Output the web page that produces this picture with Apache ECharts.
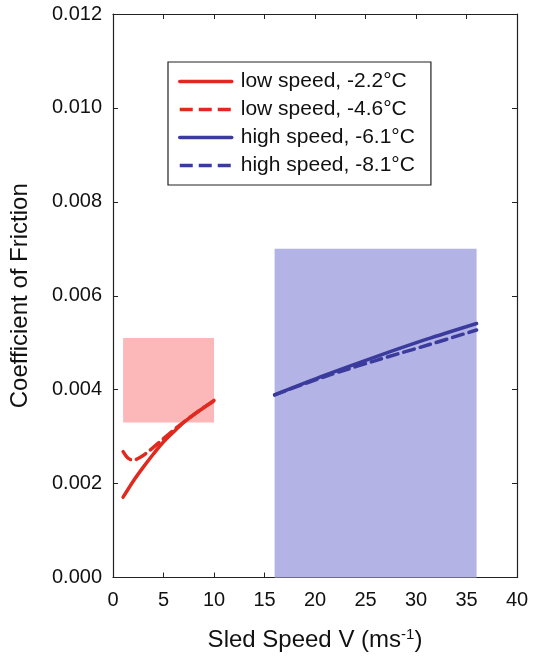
<!DOCTYPE html>
<html>
<head>
<meta charset="utf-8">
<script src="https://cdn.jsdelivr.net/npm/echarts@6/dist/echarts.min.js"></script>
<style>
  html, body { margin: 0; padding: 0; background: #fff; }
  #chart { width: 536px; height: 657px; }
</style>
</head>
<body>
<div id="chart"></div>
<script>
  // speed (m/s) vs coefficient of friction
  var lowWarm = [[1, 0.00171], [2, 0.00205], [3, 0.00235], [4, 0.00263], [5, 0.00289],
                 [6, 0.00310], [7, 0.00330], [8, 0.00347], [9, 0.00362], [10, 0.00377]];
  var lowCold = [[1, 0.00268], [1.5, 0.00254], [2, 0.00250], [2.7, 0.00256], [3.6, 0.00270],
                 [4.8, 0.00292], [6, 0.00314], [7, 0.00331], [8, 0.00347], [9, 0.00362], [10, 0.00376]];
  var highWarm = [[16, 0.00389], [21, 0.00431], [26, 0.00470], [31, 0.00507], [36, 0.00541]];
  var highCold = [[16, 0.00389], [21, 0.00428], [26, 0.00462], [31, 0.00494], [36, 0.00527]];
  // shaded ranges: [xMin, xMax, yMin, yMax]
  var lowRange = [[1, 10, 0.0033, 0.0051]];
  var highRange = [[16, 36, 0, 0.007]];
  var seriesNames = ['low speed, -2.2°C', 'low speed, -4.6°C', 'high speed, -6.1°C', 'high speed, -8.1°C'];

  var font = '"Liberation Sans", Arial, Helvetica, sans-serif';
  var red = '#e02a1f';
  var blue = '#3b3b9e';
  var dash = [11, 6];
  var legendDash = { type: [13, 6], cap: 'butt' };

  function boxItem(color) {
    return function (params, api) {
      var p0 = api.coord([api.value(0), api.value(3)]);
      var p1 = api.coord([api.value(1), api.value(2)]);
      return {
        type: 'rect',
        shape: { x: p0[0], y: p0[1], width: p1[0] - p0[0], height: p1[1] - p0[1] },
        style: { fill: color }
      };
    };
  }

  function curve(name, data, color, type) {
    return {
      name: name,
      type: 'line',
      data: data,
      smooth: 0.3,
      symbol: 'none',
      z: 5,
      lineStyle: { color: color, width: 3.5, type: type, cap: 'round' },
      itemStyle: { color: color }
    };
  }

  var chart = echarts.init(document.getElementById('chart'));
  var axisLine = { show: true, onZero: false, lineStyle: { color: '#222', width: 1.2 } };
  var tick = { show: true, inside: true, length: 5, lineStyle: { color: '#222' } };

  chart.setOption({
    animation: false,
    textStyle: { fontFamily: font },
    grid: { left: 113, right: 19, top: 14, bottom: 78 },
    legend: {
      data: [
        { name: seriesNames[0] },
        { name: seriesNames[1], lineStyle: legendDash },
        { name: seriesNames[2] },
        { name: seriesNames[3], lineStyle: legendDash }
      ],
      orient: 'vertical',
      left: 168,
      top: 62,
      padding: [9, 16, 9, 10],
      itemGap: 7,
      itemWidth: 52,
      itemHeight: 14,
      borderColor: '#222',
      borderWidth: 1.2,
      itemStyle: { opacity: 0 },
      lineStyle: { width: 3.5 },
      textStyle: { fontSize: 21, color: '#111', fontFamily: font, padding: [0, 0, 0, 4] }
    },
    xAxis: [{
      type: 'value', min: 0, max: 40, interval: 5,
      name: '{n|Sled Speed V (ms}{s|-1}{n|)}',
      nameLocation: 'middle', nameGap: 50,
      nameTextStyle: {
        rich: {
          n: { fontSize: 24, color: '#111', fontFamily: font },
          s: { fontSize: 15, color: '#111', fontFamily: font, verticalAlign: 'top', padding: [0, 0, 10, 0] }
        }
      },
      axisLine: axisLine, axisTick: tick, splitLine: { show: false },
      axisLabel: { fontSize: 20, color: '#111', margin: 13 }
    }, {
      type: 'value', min: 0, max: 40, interval: 5, position: 'top',
      axisLine: axisLine, axisTick: tick, splitLine: { show: false },
      axisLabel: { show: false }
    }],
    yAxis: [{
      type: 'value', min: 0, max: 0.012, interval: 0.002,
      name: 'Coefficient of Friction',
      nameLocation: 'middle', nameGap: 81,
      nameTextStyle: { fontSize: 24, color: '#111' },
      axisLine: axisLine, axisTick: tick, splitLine: { show: false },
      axisLabel: { fontSize: 20, color: '#111', margin: 11, formatter: function (v) { return v.toFixed(3); } }
    }, {
      type: 'value', min: 0, max: 0.012, interval: 0.002, position: 'right',
      axisLine: axisLine, axisTick: tick, splitLine: { show: false },
      axisLabel: { show: false }
    }],
    series: [
      { type: 'custom', name: 'lowRange', data: lowRange, renderItem: boxItem('#fcb8b8'), z: 1, silent: true },
      { type: 'custom', name: 'highRange', data: highRange, renderItem: boxItem('#b3b3e6'), z: 1, silent: true },
      curve(seriesNames[0], lowWarm, red, 'solid'),
      curve(seriesNames[1], lowCold, red, dash),
      curve(seriesNames[2], highWarm, blue, 'solid'),
      curve(seriesNames[3], highCold, blue, dash)
    ]
  });
</script>
</body>
</html>
